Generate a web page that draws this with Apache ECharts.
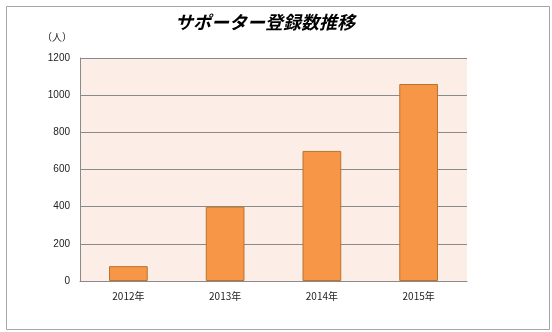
<!DOCTYPE html>
<html><head><meta charset="utf-8">
<script src="https://cdn.jsdelivr.net/npm/echarts@6/dist/echarts.min.js"></script>
<style>html,body{margin:0;padding:0;background:#fff}#c{width:552px;height:332px}</style>
</head><body><div id="c"></div>
<script>
const categories = ['2012年', '2013年', '2014年', '2015年'];
const supporters = [80, 400, 700, 1060];
const yTicks = [0, 200, 400, 600, 800, 1000, 1200];

const chart = echarts.init(document.getElementById('c'));
chart.setOption({
  animation: false,
  backgroundColor: '#fff',
  title: {
    text: 'サポーター登録数推移',
    left: 170, top: 8,
    textStyle: { fontFamily: 'Noto Sans CJK JP', fontSize: 18, fontWeight: 'bold', fontStyle: 'italic', color: '#000' }
  },
  graphic: [{
    type: 'rect', left: 4, top: 4,
    shape: { width: 543, height: 323 },
    style: { fill: 'none', stroke: '#a6a6a6', lineWidth: 1 }
  }],
  grid: { left: 80, right: 85, top: 58, bottom: 51, show: true, backgroundColor: '#fcede7', borderWidth: 0 },
  xAxis: {
    type: 'category', data: categories,
    axisLine: { lineStyle: { color: '#8a8a8a' } },
    axisTick: { show: false },
    axisLabel: { color: '#222', fontSize: 10, fontFamily: 'Noto Sans CJK JP', margin: 10 }
  },
  yAxis: {
    type: 'value', min: yTicks[0], max: yTicks[yTicks.length - 1], interval: 200,
    name: '（人）', nameLocation: 'end', nameGap: 16,
    nameTextStyle: { color: '#222', fontSize: 10, fontFamily: 'Noto Sans CJK JP', align: 'right', padding: [0, 8, 0, 0] },
    axisLine: { show: true, lineStyle: { color: '#8a8a8a' } },
    axisTick: { show: false },
    splitLine: { lineStyle: { color: '#8a8a8a' } },
    axisLabel: { color: '#222', fontSize: 10, fontFamily: 'Liberation Sans', margin: 10, formatter: v => String(v) }
  },
  series: [{
    type: 'bar', data: supporters, barWidth: '40%',
    itemStyle: { color: '#f79646', borderColor: '#b7742e', borderWidth: 1 }
  }]
});
</script></body></html>
